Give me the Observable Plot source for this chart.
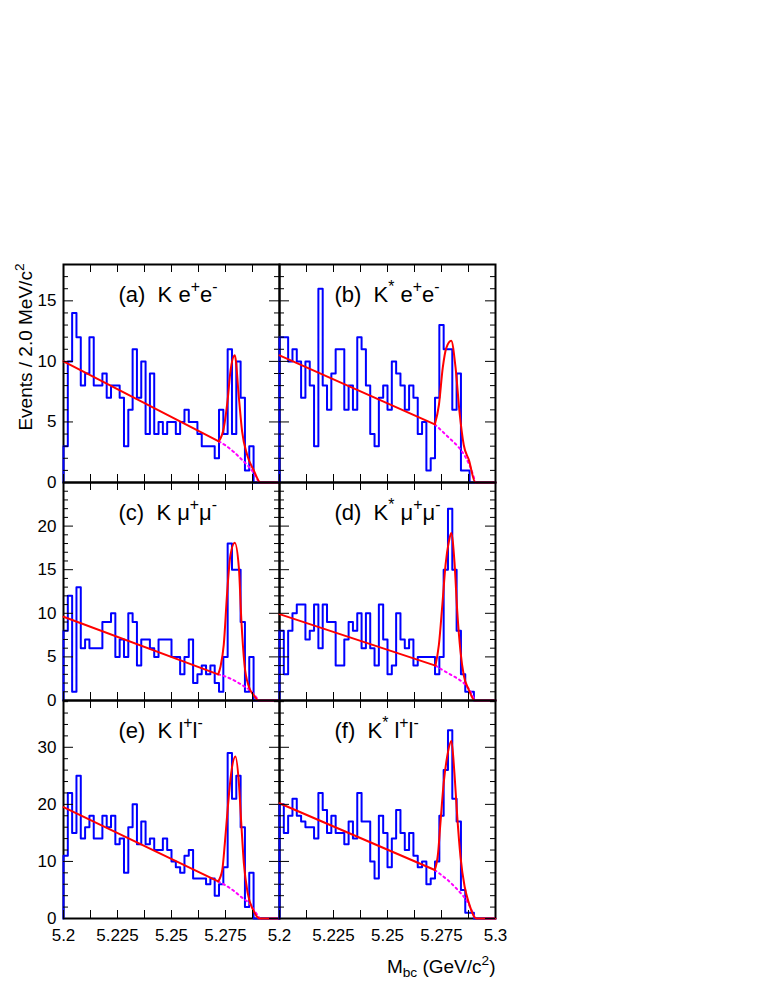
<!DOCTYPE html>
<html><head><meta charset="utf-8">
<script src="https://cdn.jsdelivr.net/npm/d3@7"></script>
<script src="https://cdn.jsdelivr.net/npm/@observablehq/plot@0.6"></script>
<style>
body{margin:0;background:#fff;}
#chart{position:relative;width:765px;height:990px;background:#fff;font-family:"Liberation Sans",Arial,Helvetica,sans-serif;}
.panel{position:absolute;}
.panel svg{overflow:visible;}
.panel text{white-space:pre;}
</style></head><body><div id="chart"></div>
<script>
// ---- data ----
const binStart = 5.2;
const binWidth = 0.002;
const xTickLabelsLeft = [5.2, 5.225, 5.25, 5.275];
const xTickLabelsRight = [5.2, 5.225, 5.25, 5.275, 5.3];
const xMajorTicks = [5.2, 5.225, 5.25, 5.275, 5.3];
const xMinorTicks = [5.2125, 5.2375, 5.2625, 5.2875];

const labelA = "(a)  K e^{+}e^{-}";
const labelB = "(b)  K^{*} e^{+}e^{-}";
const labelC = "(c)  K \u03bc^{+}\u03bc^{-}";
const labelD = "(d)  K^{*} \u03bc^{+}\u03bc^{-}";
const labelE = "(e)  K l^{+}l^{-}";
const labelF = "(f)  K^{*} l^{+}l^{-}";
const yTitle = "Events / 2.0 MeV/c^{2}";
const xTitle = "M_{bc} (GeV/c^{2})";

const countsA = [3,10,14,12,8,9,12,8,8,9, 7,8,8,7,3,6,11,7,10,4, 9,4,5,4,5,5,4,5,6,5, 5,4,3,3,3,2,6,4,11,4, 10,7,1,3,0,0,0,0,0,0];
const countsB = [12,12,10,11,10,7,10,8,3,16, 8,6,9,11,11,6,8,6,12,11, 8,4,3,7,8,6,10,9,8,6, 8,7,4,5,1,2,7,13,11,11, 6,9,1,1,0,0,0,0,0,0];
const countsC = [8,12,1,13,6,7,6,6,6,9, 9,10,5,7,5,10,9,4,7,7, 6,5,7,7,7,5,5,3,5,7, 2,3,4,3,4,2,1,5,18,15, 15,9,1,5,0,0,0,0,0,0];
const countsD = [8,3,8,10,11,11,7,8,11,6, 11,9,9,4,4,7,9,8,10,6, 10,6,4,11,7,3,4,10,7,6, 7,4,5,5,5,5,3,5,15,22, 15,8,3,1,1,0,0,0,0,0];
const countsE = [11,22,15,25,14,16,18,14,14,18, 16,18,13,14,8,16,20,13,17,13, 14,12,12,14,12,10,9,8,11,12, 7,7,7,6,7,4,6,9,29,21, 25,16,2,8,0,0,0,0,0,0];
const countsF = [20,15,18,21,18,17,16,16,14,22, 19,15,18,15,15,13,17,14,22,17, 17,10,7,18,15,9,14,19,15,12, 15,11,9,10,6,7,10,18,26,33, 21,17,5,1,1,0,0,0,0,0];

// total fit (mass, events)
const fitA = [[5.2,10.0],[5.2719,3.4],[5.2742,4.5],[5.2761,7.0],[5.2773,9.2],[5.2793,10.5],[5.2812,7.0],[5.2827,4.2],[5.285,2.3],[5.2881,1.0],[5.2912,0],[5.3,0]];
const fitB = [[5.2,10.5],[5.2719,4.8],[5.2738,6.4],[5.2756,9.5],[5.2772,11.1],[5.2795,11.7],[5.2815,9.5],[5.2833,5.9],[5.2853,3.1],[5.2877,1.85],[5.2907,0],[5.3,0]];
const fitC = [[5.2,9.6],[5.2716,3.0],[5.2727,3.9],[5.2742,6.4],[5.2758,12.5],[5.2773,16.7],[5.2793,18.1],[5.2812,15.2],[5.2823,9.4],[5.2838,4.1],[5.2858,1.6],[5.2881,0.6],[5.2904,0],[5.3,0]];
const fitD = [[5.2,9.9],[5.2722,4.0],[5.2738,6.4],[5.2754,11.0],[5.2769,15.6],[5.2784,18.2],[5.2795,19.2],[5.281,15.9],[5.2823,10.2],[5.2838,5.6],[5.2853,2.9],[5.2877,1.2],[5.2904,0],[5.3,0]];
const fitE = [[5.2,19.5],[5.2716,6.5],[5.2735,8.5],[5.2747,13.2],[5.2761,19.6],[5.2776,25.4],[5.2796,28.4],[5.2812,23.7],[5.2823,16.7],[5.2835,9.7],[5.2853,4.4],[5.2878,1.5],[5.2909,0],[5.3,0]];
const fitF = [[5.2,20.2],[5.2719,8.5],[5.2734,11.4],[5.2745,16.7],[5.276,23.7],[5.2776,28.3],[5.2796,31.1],[5.281,25.4],[5.2823,17.8],[5.2838,10.8],[5.2857,5.6],[5.2877,2.7],[5.2911,0],[5.3,0]];

// background component (dotted)
const bkgA = [[5.2719,3.4],[5.2755,3.0],[5.279,2.5],[5.2825,1.9],[5.2858,1.3],[5.288,0.8],[5.2905,0]];
const bkgB = [[5.2719,4.8],[5.2755,4.2],[5.279,3.6],[5.2825,3.0],[5.2861,2.1],[5.2885,1.2],[5.2907,0]];
const bkgC = [[5.2716,3.0],[5.2755,2.7],[5.279,2.3],[5.2825,1.8],[5.2866,1.1],[5.2885,0.6],[5.2904,0]];
const bkgD = [[5.2722,4.0],[5.2755,3.5],[5.279,3.0],[5.2825,2.5],[5.2861,1.8],[5.2885,1.0],[5.2904,0]];
const bkgE = [[5.2716,6.5],[5.2755,5.7],[5.279,4.8],[5.2825,3.7],[5.2866,2.4],[5.2885,1.3],[5.2909,0]];
const bkgF = [[5.2719,8.5],[5.275,7.6],[5.278,6.7],[5.281,5.6],[5.284,4.4],[5.2865,3.2],[5.2885,1.8],[5.2905,0]];

const yMajor1 = [0,5,10,15], yLabels1 = [0,5,10,15];
const yMajor2 = [0,5,10,15,20,25], yLabels2 = [0,5,10,15,20];
const yMajor3 = [0,10,20,30], yLabels3 = [0,10,20,30];

// ---- layout ----
const W = 216, H = 218;
const rows = [
  {top: 264, yMax: 18.0, major: yMajor1, minorStep: 1, labels: yLabels1},
  {top: 482, yMax: 25.0, major: yMajor2, minorStep: 1, labels: yLabels2},
  {top: 700, yMax: 38.2, major: yMajor3, minorStep: 2, labels: yLabels3}
];
const cols = [63, 279];
const panels = [
  {row:0, col:0, label:labelA, counts:countsA, fit:fitA, bkg:bkgA},
  {row:0, col:1, label:labelB, counts:countsB, fit:fitB, bkg:bkgB},
  {row:1, col:0, label:labelC, counts:countsC, fit:fitC, bkg:bkgC},
  {row:1, col:1, label:labelD, counts:countsD, fit:fitD, bkg:bkgD},
  {row:2, col:0, label:labelE, counts:countsE, fit:fitE, bkg:bkgE},
  {row:2, col:1, label:labelF, counts:countsF, fit:fitF, bkg:bkgF}
];

function richify(svg) {
  svg.querySelectorAll("text").forEach(t => {
    const s = t.textContent;
    if (!/[\^_]\{/.test(s)) return;
    const F = parseFloat(getComputedStyle(t).fontSize) || 16;
    t.textContent = "";
    const re = /([\^_])\{([^}]*)\}|([^\^_]+)/g;
    let m, cur = 0;
    while ((m = re.exec(s))) {
      const ts = document.createElementNS("http://www.w3.org/2000/svg", "tspan");
      let want = 0;
      if (m[1]) {
        ts.textContent = m[2];
        ts.setAttribute("font-size", (0.72 * F) + "px");
        want = m[1] === "^" ? -0.42 * F : 0.25 * F;
      } else ts.textContent = m[3];
      const dy = want - cur;
      if (Math.abs(dy) > 1e-6) ts.setAttribute("dy", dy);
      cur = want;
      t.appendChild(ts);
    }
  });
}

const chart = document.getElementById("chart");
for (const p of panels) {
  const row = rows[p.row];
  const hist = [{m: binStart, n: 0}].concat(p.counts.map((n, i) => ({m: binStart + i * binWidth, n})));
  hist.push({m: binStart + p.counts.length * binWidth, n: p.counts[p.counts.length - 1]});
  const fit = p.fit.map(([m, v]) => ({m, v}));
  const bkg = p.bkg.map(([m, v]) => ({m, v}));
  const minorY = d3.range(0, row.yMax, row.minorStep).filter(v => !row.major.includes(v));
  const marks = [
    Plot.frame({stroke: "black", strokeWidth: 2}),
    Plot.line(hist, {x: "m", y: "n", curve: "step-after", stroke: "#0000ff", strokeWidth: 2}),
    Plot.line(bkg, {x: "m", y: "v", stroke: "#ff00ff", strokeWidth: 2, strokeDasharray: "2,3.5", curve: "monotone-x"}),
    Plot.line(fit.slice(0, 2), {x: "m", y: "v", stroke: "#ff0000", strokeWidth: 2}),
    Plot.line(fit.slice(1), {x: "m", y: "v", stroke: "#ff0000", strokeWidth: 2, curve: "monotone-x"}),
    Plot.tickY(row.major, {y: d => d, insetRight: W - 10, stroke: "black"}),
    Plot.tickY(row.major, {y: d => d, insetLeft: W - 10, stroke: "black"}),
    Plot.tickY(minorY, {y: d => d, insetRight: W - 5, stroke: "black"}),
    Plot.tickY(minorY, {y: d => d, insetLeft: W - 5, stroke: "black"}),
    Plot.tickX(xMajorTicks, {x: d => d, insetTop: H - 8, stroke: "black"}),
    Plot.tickX(xMajorTicks, {x: d => d, insetBottom: H - 8, stroke: "black"}),
    Plot.tickX(xMinorTicks, {x: d => d, insetTop: H - 8, stroke: "black"}),
    Plot.tickX(xMinorTicks, {x: d => d, insetBottom: H - 8, stroke: "black"}),
    Plot.text([p.label], {text: d => d, frameAnchor: "top-left", dx: 55, dy: 37, lineAnchor: "bottom", textAnchor: "start", fontSize: 22, fill: "black"})
  ];
  if (p.col === 0) {
    marks.push(Plot.text(row.labels, {y: d => d, text: d => String(d), frameAnchor: "left", textAnchor: "end", dx: -7, fontSize: 17, fill: "black"}));
  }
  if (p.row === 0 && p.col === 0) {
    marks.push(Plot.text([yTitle], {text: d => d, frameAnchor: "top-left", rotate: -90, textAnchor: "end", dx: -45, dy: -1, fontSize: 19, fill: "black"}));
  }
  if (p.row === 2) {
    const lab = p.col === 0 ? xTickLabelsLeft : xTickLabelsRight;
    marks.push(Plot.text(lab, {x: d => d, text: d => String(d), frameAnchor: "bottom", lineAnchor: "top", dy: 10, fontSize: 17, fill: "black"}));
    if (p.col === 1) {
      marks.push(Plot.text([xTitle], {text: d => d, frameAnchor: "bottom-right", textAnchor: "end", lineAnchor: "bottom", dy: 54, fontSize: 19, fill: "black"}));
    }
  }
  const svg = Plot.plot({
    width: W, height: H, margin: 0,
    x: {domain: [5.2, 5.3], axis: null},
    y: {domain: [0, row.yMax], axis: null},
    style: {overflow: "visible", background: "transparent", fontFamily: "'Liberation Sans', Arial, Helvetica, sans-serif"},
    marks
  });
  const div = document.createElement("div");
  div.className = "panel";
  div.style.left = cols[p.col] + "px";
  div.style.top = row.top + "px";
  div.appendChild(svg);
  chart.appendChild(div);
  richify(svg);
}
</script></body></html>
